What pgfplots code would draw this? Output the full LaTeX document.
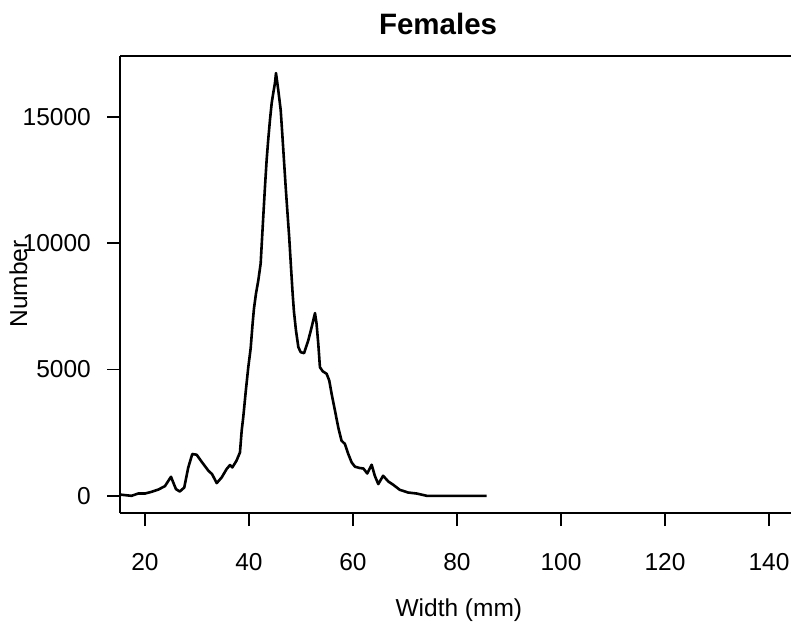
\documentclass[border=0pt]{standalone}
\usepackage{pgfplots}
\pgfplotsset{compat=1.18}
\usepackage{fontspec}
\setmainfont{Liberation Sans}
\pgfplotstableread{
x y
15.2 50
16.15 28
17.4 0
18.7 90
20.0 90
21.3 160
22.6 250
23.85 385
25.0 754
25.96 266
26.7 171
27.56 329
28.33 1123
29.1 1655
29.94 1627
31.0 1321
32.2 992
32.9 861
33.8 504
34.75 726
35.7 1059
36.35 1218
36.8 1123
37.6 1389
38.27 1718
38.6 2579
38.9 3107
39.4 4166
39.87 5091
40.33 5845
40.7 6813
40.96 7408
41.35 8003
41.8 8532
42.25 9193
42.44 9900
42.75 11043
43.08 12233
43.4 13293
43.7 14086
44.04 14880
44.37 15543
44.67 15940
45.0 16336
45.2 16733
45.63 16071
46.1 15277
46.4 14352
46.73 13293
47.06 12233
47.37 11309
47.75 10200
48.1 9000
48.4 8003
48.65 7300
49.04 6547
49.5 5885
49.94 5686
50.6 5647
51.4 6150
52.06 6678
52.7 7234
53.0 6813
53.33 6019
53.65 5091
54.17 4932
54.94 4829
55.44 4563
55.9 4035
56.54 3373
57.17 2711
57.8 2182
58.46 2051
59.1 1655
59.75 1321
60.4 1151
61.35 1099
62.0 1083
62.75 885
63.6 1230
64.2 794
64.87 464
65.8 794
66.8 567
67.75 436
69.0 238
70.6 131
72.25 91
74.2 0
78.0 0
80.25 0
85.7 0
}\females
\begin{document}
\begin{tikzpicture}
\useasboundingbox (0,0) rectangle (791bp,635bp);
\begin{axis}[
  at={(120bp,122bp)}, anchor=south west,
  scale only axis, width=671bp, height=457bp,
  xmin=15.2, xmax=144.24, ymin=-680, ymax=17410,
  axis lines=left, axis line style={-, line width=1.9bp, black},
  clip=false,
  xtick={20,40,60,80,100,120,140},
  ytick={0,5000,10000,15000},
  tick align=outside, major tick length=13bp,
  tick style={line width=1.5bp, black},
  scaled ticks=false,
  /pgf/number format/assume math mode=true,
  /pgf/number format/1000 sep={},
  font=\fontsize{24.5bp}{29bp}\selectfont,
  ticklabel style={font=\fontsize{24.5bp}{29bp}\selectfont},
  xticklabel style={anchor=north, inner sep=0pt, yshift=-27bp},
  yticklabel style={anchor=east, inner sep=0pt, xshift=-16bp},
  xlabel={Width (mm)},
  xlabel style={at={(axis description cs:0.505,-0.2275)}, anchor=base, inner sep=0pt},
  ylabel={Number},
  ylabel style={at={(axis description cs:-0.1386,0.501)}, anchor=base, rotate=0, inner sep=0pt},
  title={Females},
  title style={at={(axis description cs:0.474,1.033)}, anchor=base, inner sep=0pt, font=\bfseries\fontsize{29.5bp}{34bp}\selectfont},
]
\addplot[black, line width=2.6bp, line join=round, mark=none] table {\females};
\draw[line width=1.9bp, black] (rel axis cs:0,1) -- (rel axis cs:1,1);
\end{axis}
\end{tikzpicture}
\end{document}
